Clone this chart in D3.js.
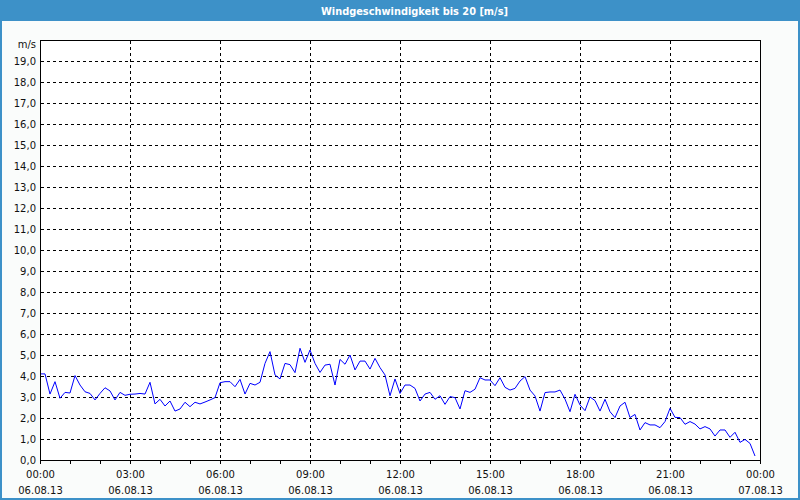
<!DOCTYPE html>
<html><head><meta charset="utf-8">
<script src="https://cdn.jsdelivr.net/npm/d3@7/dist/d3.min.js"></script>
<style>
html,body{margin:0;padding:0;background:#fafcfb;}
svg{display:block;}
text{font-family:"DejaVu Sans",Verdana,sans-serif;}
</style></head>
<body>
<svg id="c" width="800" height="500"></svg>
<script>
const titleText = "Windgeschwindigkeit bis 20 [m/s]";
const unitLabel = "m/s";
const startTime = new Date(2013, 7, 6, 0, 0);
const endTime = new Date(2013, 7, 7, 0, 0);
const yTicks = [0,1,2,3,4,5,6,7,8,9,10,11,12,13,14,15,16,17,18,19];
const xTickTimes = ["00:00","03:00","06:00","09:00","12:00","15:00","18:00","21:00","00:00"];
const xTickDates = ["06.08.13","06.08.13","06.08.13","06.08.13","06.08.13","06.08.13","06.08.13","06.08.13","07.08.13"];
// wind speed, 10-minute readings from 00:00 to 23:50
const speeds = [
 4.10,4.10,3.14,3.73,2.94,3.22,3.19,4.02,3.57,3.25,3.17,2.86,3.17,3.44,3.29,2.86,3.22,3.08,
 3.13,3.14,3.17,3.14,3.70,2.67,2.89,2.57,2.81,2.33,2.43,2.75,2.54,2.75,2.67,2.76,2.86,2.97,
 3.68,3.73,3.73,3.49,3.84,3.14,3.65,3.57,3.70,4.60,5.16,4.05,3.86,4.60,4.54,4.16,5.32,4.65,
 5.24,4.60,4.17,4.52,4.56,3.57,4.79,4.56,5.00,4.29,4.71,4.71,4.33,4.84,4.40,4.05,3.06,3.86,
 3.17,3.57,3.57,3.41,2.81,3.14,3.22,2.89,3.06,2.65,3.02,2.97,2.43,3.30,3.22,3.37,3.92,3.81,
 3.81,3.54,3.92,3.46,3.33,3.41,3.76,3.97,3.33,3.05,2.33,3.21,3.24,3.24,3.33,2.90,2.30,3.13,
 2.62,2.35,3.00,2.83,2.33,2.89,2.30,2.02,2.57,2.75,2.02,2.17,1.43,1.78,1.67,1.67,1.54,1.83,
 2.46,2.03,2.02,1.70,1.83,1.71,1.48,1.59,1.48,1.14,1.43,1.43,1.08,1.32,0.84,0.98,0.79,0.19
];
const times = d3.timeMinutes(startTime, endTime, 10);
const data = times.map((t, i) => ({t, v: speeds[i]}));

const W = 800, H = 500;
const L = 40, R = 760, T = 40, B = 460;
const svg = d3.select("#c");

// outer frame
svg.append("rect").attr("x",0).attr("y",0).attr("width",W).attr("height",H).attr("fill","#3d91c8");
svg.append("rect").attr("x",2).attr("y",21).attr("width",W-4).attr("height",H-23).attr("fill","#fafcfb");
svg.append("text").attr("x",414.5).attr("y",14.5).attr("text-anchor","middle")
  .attr("fill","#fff").attr("font-weight","bold").attr("font-size",11)
  .attr("textLength",187).attr("lengthAdjust","spacingAndGlyphs").text(titleText);

const x = d3.scaleTime().domain([startTime, endTime]).range([L, R]);
const y = d3.scaleLinear().domain([0, 20]).range([B, T]);

svg.append("rect").attr("x",L+0.5).attr("y",T+0.5).attr("width",R-L).attr("height",B-T).attr("fill","#fff");

// horizontal grid
const g = svg.append("g");
g.selectAll("line.h").data(yTicks.filter(d => d > 0)).enter().append("line")
  .attr("x1",L+1).attr("x2",R).attr("y1",d => Math.round(y(d))+0.5).attr("y2",d => Math.round(y(d))+0.5)
  .attr("stroke","#000").attr("stroke-dasharray","3,3");
// vertical grid
const majors = d3.timeHours(startTime, d3.timeMinute.offset(endTime,1), 3);
g.selectAll("line.v").data(majors.slice(1, -1)).enter().append("line")
  .attr("x1",d => Math.round(x(d))+0.5).attr("x2",d => Math.round(x(d))+0.5)
  .attr("y1",T+1).attr("y2",B)
  .attr("stroke","#000").attr("stroke-dasharray","3,3");

// line
const line = d3.line().x(d => x(d.t)).y(d => y(d.v));
svg.append("path").datum(data).attr("d",line).attr("fill","none").attr("stroke","#0000ff").attr("stroke-width",1);

// frame
svg.append("rect").attr("x",L+0.5).attr("y",T+0.5).attr("width",R-L).attr("height",B-T)
  .attr("fill","none").attr("stroke","#000");

// x axis ticks (hourly, downward)
const hours = d3.timeHours(startTime, d3.timeMinute.offset(endTime,1), 1);
svg.selectAll("line.xt").data(hours).enter().append("line")
  .attr("x1",d => Math.round(x(d))+0.5).attr("x2",d => Math.round(x(d))+0.5)
  .attr("y1",B+0.5).attr("y2",B+4).attr("stroke","#000");

// x labels
const xl = svg.append("g").attr("fill","#111").attr("font-size",10).attr("text-anchor","middle");
majors.forEach((d, i) => {
  xl.append("text").attr("x",x(d)+0.5).attr("y",478).text(xTickTimes[i]);
  xl.append("text").attr("x",x(d)+0.5).attr("y",494).text(xTickDates[i]);
});

// y labels
const yl = svg.append("g").attr("fill","#111").attr("font-size",10).attr("text-anchor","end");
yTicks.forEach(d => {
  yl.append("text").attr("x",36).attr("y",y(d)+4).text(d.toFixed(1).replace(".", ","));
});
yl.append("text").attr("x",36).attr("y",y(20)+8).text(unitLabel);
</script>
</body></html>
